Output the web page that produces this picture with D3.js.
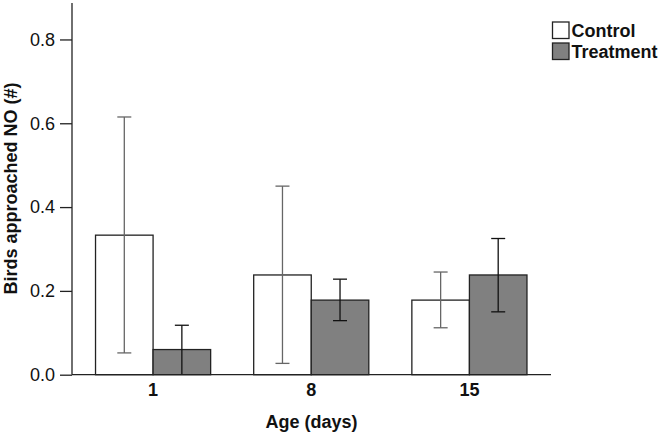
<!DOCTYPE html>
<html><head><meta charset="utf-8">
<script src="https://cdn.jsdelivr.net/npm/d3@7"></script>
<style>body{margin:0;background:#fff}svg{display:block}text{font-family:"Liberation Sans",Arial,sans-serif}</style>
</head><body>
<svg id="c" width="664" height="434"></svg>
<script>
const categories = ["1", "8", "15"];
const seriesNames = ["Control", "Treatment"];
const controlMean = [0.333, 0.238, 0.178];
const controlLow  = [0.052, 0.027, 0.112];
const controlHigh = [0.615, 0.450, 0.245];
const treatmentMean = [0.060, 0.178, 0.238];
const treatmentLow  = [0.000, 0.129, 0.150];
const treatmentHigh = [0.118, 0.228, 0.325];
const yTicks = [0.0, 0.2, 0.4, 0.6, 0.8];

const rows = categories.map((c, i) => ({
  cat: c,
  vals: [
    {s: "Control", v: controlMean[i], lo: controlLow[i], hi: controlHigh[i]},
    {s: "Treatment", v: treatmentMean[i], lo: treatmentLow[i], hi: treatmentHigh[i]}
  ]
}));

const svg = d3.select("#c");
const axisX = 72, baseY = 374.7, topY = 3;
const y = d3.scaleLinear().domain([0, 0.887]).range([baseY, topY]);
const x0 = d3.scaleBand().domain(categories).range([74, 548.5]).padding(0);
const x1 = d3.scaleBand().domain(seriesNames).range([0, x0.bandwidth()]).paddingInner(0).paddingOuter(0.374);
const fill = {Control: "#ffffff", Treatment: "#808080"};
const errColor = {Control: "#666666", Treatment: "#111111"};

// bars
const g = svg.append("g");
const grp = g.selectAll("g.grp").data(rows).join("g").attr("transform", d => `translate(${x0(d.cat)},0)`);
grp.selectAll("rect").data(d => d.vals).join("rect")
  .attr("x", d => x1(d.s)).attr("width", x1.bandwidth())
  .attr("y", d => y(d.v)).attr("height", d => baseY - y(d.v))
  .attr("fill", d => fill[d.s]).attr("stroke", "#222").attr("stroke-width", 1.3);

// error bars
const eb = grp.selectAll("g.eb").data(d => d.vals).join("g").attr("class", "eb");
const cx = d => x1(d.s) + x1.bandwidth() / 2;
eb.append("line").attr("x1", cx).attr("x2", cx).attr("y1", d => y(d.lo)).attr("y2", d => y(d.hi))
  .attr("stroke", d => errColor[d.s]).attr("stroke-width", 1.3);
eb.append("line").attr("x1", d => cx(d) - 7).attr("x2", d => cx(d) + 7).attr("y1", d => y(d.hi)).attr("y2", d => y(d.hi))
  .attr("stroke", d => errColor[d.s]).attr("stroke-width", 1.3);
eb.filter(d => d.lo > 0.005).append("line").attr("x1", d => cx(d) - 7).attr("x2", d => cx(d) + 7).attr("y1", d => y(d.lo)).attr("y2", d => y(d.lo))
  .attr("stroke", d => errColor[d.s]).attr("stroke-width", 1.3);

// y axis
const yAxis = d3.axisLeft(y).tickValues(yTicks).tickFormat(d3.format(".1f")).tickSize(12).tickPadding(5);
const ya = svg.append("g").attr("transform", `translate(${axisX},0)`).call(yAxis);
ya.select(".domain").remove();
ya.selectAll(".tick line").attr("stroke", "#222").attr("stroke-width", 1.3);
ya.selectAll(".tick text").attr("font-size", 18).attr("fill", "#111").attr("font-family", "Liberation Sans, Arial, sans-serif");
svg.append("line").attr("x1", axisX).attr("x2", axisX).attr("y1", topY).attr("y2", baseY).attr("stroke", "#222").attr("stroke-width", 1.3);

// x axis
svg.append("line").attr("x1", axisX).attr("x2", 551).attr("y1", baseY).attr("y2", baseY).attr("stroke", "#222").attr("stroke-width", 1.3);
const xAxis = d3.axisBottom(x0).tickSize(0).tickPadding(9);
const xa = svg.append("g").attr("transform", `translate(0,${baseY})`).call(xAxis);
xa.select(".domain").remove();
xa.selectAll(".tick text").attr("font-size", 18).attr("font-weight", "bold").attr("fill", "#111").attr("font-family", "Liberation Sans, Arial, sans-serif");

// axis titles
svg.append("text").attr("x", 311.5).attr("y", 428).attr("text-anchor", "middle")
  .attr("font-size", 18).attr("font-weight", "bold").attr("fill", "#111").text("Age (days)");
svg.append("text").attr("transform", "translate(17,188.5) rotate(-90)").attr("text-anchor", "middle")
  .attr("font-size", 18).attr("font-weight", "bold").attr("fill", "#111").text("Birds approached NO (#)");

// legend
const leg = svg.append("g").attr("transform", "translate(552,21.5)");
const li = leg.selectAll("g").data(seriesNames).join("g").attr("transform", (d, i) => `translate(0,${i * 21})`);
li.append("rect").attr("x", 0.5).attr("y", 0.5).attr("width", 16.5).attr("height", 16.5)
  .attr("fill", d => fill[d]).attr("stroke", "#222").attr("stroke-width", 1.3);
li.append("text").attr("x", 19.5).attr("y", 15).attr("font-size", 18).attr("font-weight", "bold").attr("fill", "#111").text(d => d);
</script>
</body></html>
